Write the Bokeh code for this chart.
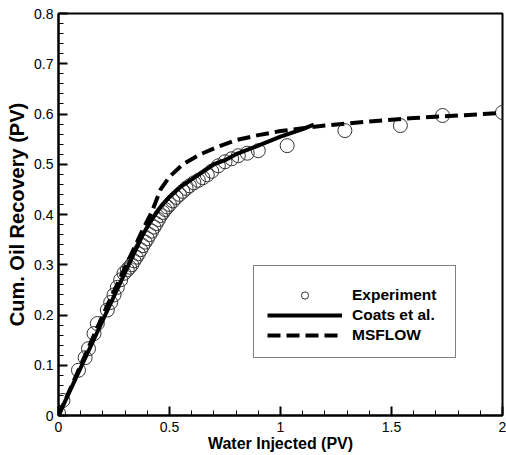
from bokeh.plotting import figure
from bokeh.models import (Range1d, SingleIntervalTicker, CustomJSTickFormatter,
                          Legend, LegendItem)
from bokeh.embed import file_html
from bokeh.resources import INLINE

# Experiment (circles)
exp_x = [0.0, 0.02, 0.09, 0.12, 0.135, 0.16, 0.175, 0.22, 0.235, 0.25, 0.265,
         0.28, 0.295, 0.31, 0.32, 0.33, 0.34, 0.35, 0.36, 0.37, 0.38, 0.39,
         0.40, 0.41, 0.42, 0.43, 0.44, 0.45, 0.46, 0.47, 0.48, 0.49, 0.50,
         0.515, 0.53, 0.545, 0.56, 0.575, 0.59, 0.61, 0.63, 0.65, 0.67, 0.69,
         0.72, 0.75, 0.78, 0.81, 0.85, 0.90, 1.03, 1.29, 1.54, 1.73, 2.0]
exp_y = [0.005, 0.03, 0.09, 0.115, 0.133, 0.163, 0.183, 0.21, 0.225, 0.24,
         0.255, 0.27, 0.283, 0.29, 0.295, 0.30, 0.308, 0.315, 0.322, 0.33,
         0.338, 0.345, 0.352, 0.36, 0.367, 0.375, 0.382, 0.39, 0.398, 0.404,
         0.41, 0.415, 0.42, 0.427, 0.434, 0.44, 0.446, 0.452, 0.457, 0.463,
         0.468, 0.473, 0.479, 0.486, 0.497, 0.505, 0.511, 0.517, 0.522, 0.527,
         0.537, 0.567, 0.577, 0.597, 0.603]

# Coats et al. (solid)
coats_x = [0.0, 0.1, 0.2, 0.3, 0.38, 0.42, 0.46, 0.50, 0.55, 0.60, 0.65, 0.70,
           0.75, 0.80, 0.90, 1.00, 1.10, 1.15]
coats_y = [0.0, 0.095, 0.19, 0.285, 0.36, 0.39, 0.415, 0.435, 0.455, 0.47,
           0.485, 0.50, 0.508, 0.52, 0.537, 0.555, 0.57, 0.579]

# MSFLOW (dashed)
ms_x = [0.0, 0.1, 0.2, 0.3, 0.38, 0.42, 0.46, 0.50, 0.56, 0.64, 0.72, 0.80,
        0.90, 1.00, 1.20, 1.40, 1.60, 1.80, 2.00]
ms_y = [0.0, 0.1, 0.2, 0.295, 0.37, 0.405, 0.45, 0.475, 0.50, 0.52, 0.535,
        0.548, 0.558, 0.566, 0.577, 0.585, 0.592, 0.597, 0.602]

x_title = "Water Injected (PV)"
y_title = "Cum. Oil Recovery (PV)"

p = figure(frame_width=444, frame_height=402, output_backend="svg",
           toolbar_location=None, x_range=Range1d(0, 2), y_range=Range1d(0, 0.8),
           min_border_left=58, min_border_top=13, min_border_right=4,
           min_border_bottom=38, background_fill_color="white",
           border_fill_color="white")
p.outline_line_color = "black"
p.outline_line_width = 2
p.xgrid.visible = False
p.ygrid.visible = False

fmt = CustomJSTickFormatter(code="return String(Math.round(tick*10)/10);")
p.xaxis.ticker = SingleIntervalTicker(interval=0.5, num_minor_ticks=5)
p.yaxis.ticker = SingleIntervalTicker(interval=0.1, num_minor_ticks=5)
for ax in (p.xaxis[0], p.yaxis[0]):
    ax.formatter = fmt
    ax.axis_line_color = "black"
    ax.axis_line_width = 2
    ax.major_tick_in = 9
    ax.major_tick_out = 0
    ax.minor_tick_in = 5
    ax.minor_tick_out = 0
    ax.major_tick_line_width = 2
    ax.minor_tick_line_width = 1
    ax.major_label_text_font = "Liberation Sans"
    ax.major_label_text_font_size = "14px"
    ax.major_label_text_color = "black"
    ax.axis_label_text_font = "Liberation Sans"
    ax.axis_label_text_font_style = "bold"
    ax.axis_label_text_color = "black"
p.xaxis.axis_label = x_title
p.yaxis.axis_label = y_title
p.xaxis.axis_label_text_font_size = "16px"
p.yaxis.axis_label_text_font_size = "20px"
p.xaxis.major_label_standoff = 6
p.xaxis.axis_label_standoff = 0
p.yaxis.major_label_standoff = 5
p.yaxis.axis_label_standoff = 3

r_exp = p.scatter(exp_x, exp_y, marker="circle", size=14, fill_color=None,
                  line_color="#333333", line_width=1)
r_coats = p.line(coats_x, coats_y, line_color="black", line_width=4)
r_ms = p.line(ms_x, ms_y, line_color="black", line_width=4, line_dash="13 6")

legend = Legend(items=[LegendItem(label="Experiment", renderers=[r_exp]),
                       LegendItem(label="Coats et al.", renderers=[r_coats]),
                       LegendItem(label="MSFLOW", renderers=[r_ms])],
                location=(195, 57), title=" ", title_text_font_size="7px",
                title_standoff=0, glyph_width=75, glyph_height=18,
                label_standoff=10, spacing=2, padding=13, margin=0,
                label_width=90,
                border_line_color="black", border_line_width=1,
                background_fill_color="white", background_fill_alpha=1,
                label_text_font="Liberation Sans", label_text_font_style="bold",
                label_text_font_size="15.5px", label_text_color="black")
p.add_layout(legend, "center")

open("out.html", "w").write(file_html(p, INLINE))
